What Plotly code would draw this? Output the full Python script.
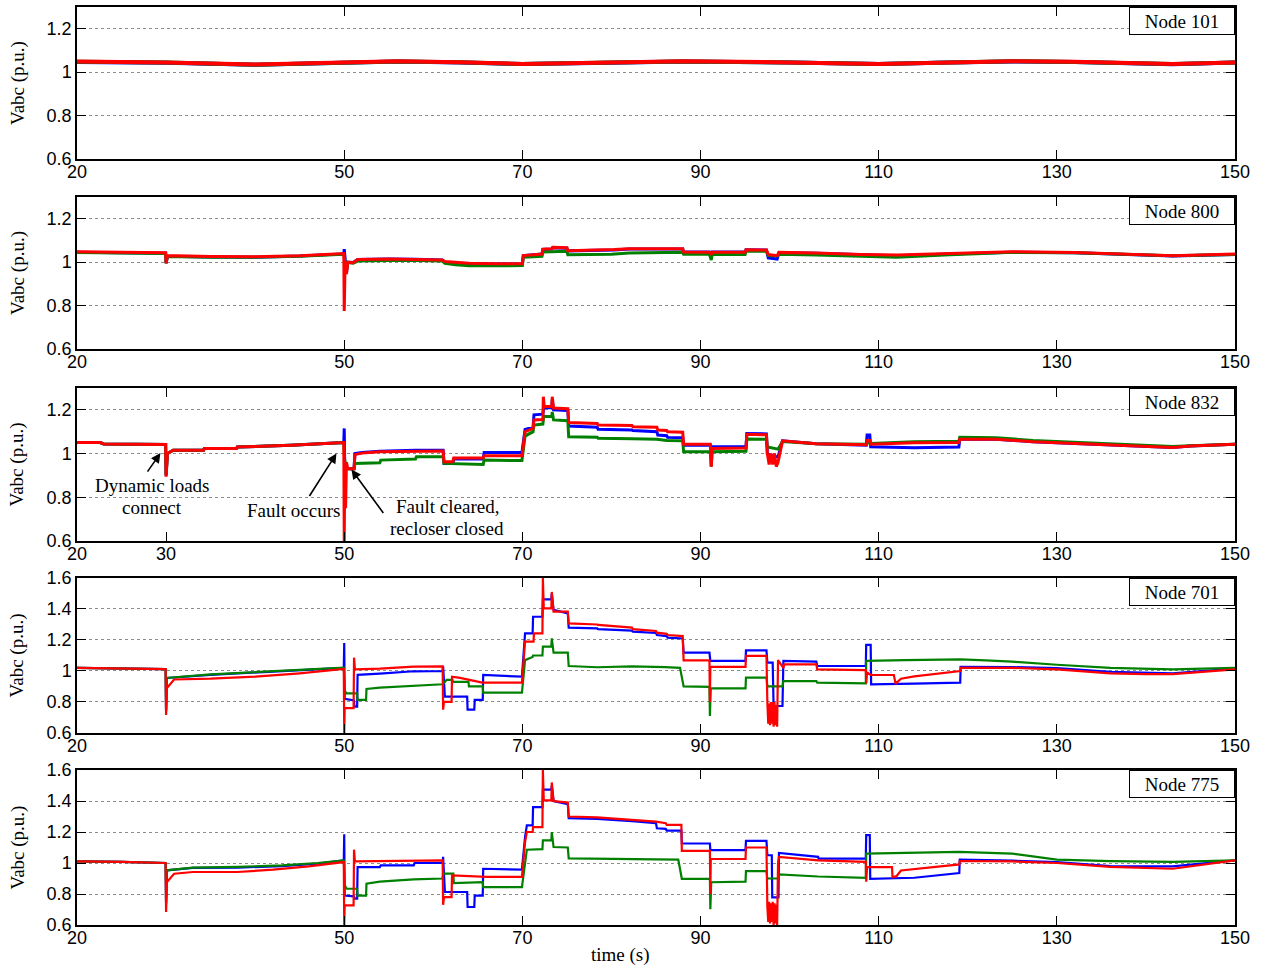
import plotly.graph_objects as go
from plotly.subplots import make_subplots

# ---------------- data (time s, voltage p.u.) ----------------
NODES = ["Node 101", "Node 800", "Node 832", "Node 701", "Node 775"]

# Node 101
N101_A = [(20,1.047),(30,1.043),(40,1.034),(50,1.043),(56,1.049),(63,1.045),(70,1.037),(80,1.043),(88,1.049),(100,1.044),(110,1.037),(118,1.044),(125,1.049),(132,1.047),(143,1.036),(150,1.044)]
N101_B = [(20,1.048),(30,1.044),(40,1.034),(50,1.044),(56,1.049),(63,1.046),(70,1.037),(80,1.044),(88,1.049),(100,1.045),(110,1.037),(118,1.045),(125,1.050),(132,1.047),(143,1.037),(150,1.044)]
N101_C = [(20,1.049),(30,1.045),(40,1.035),(50,1.044),(56,1.050),(63,1.046),(70,1.038),(80,1.044),(88,1.050),(100,1.045),(110,1.038),(118,1.045),(125,1.050),(132,1.048),(143,1.037),(150,1.045)]

# Node 800
N800_A = [(20,1.046),(25,1.044),(29.95,1.041),(30,0.995),(30.15,1.027),(35,1.024),(40,1.023),(45,1.028),(49.95,1.038),(50,1.06),(50.1,1.0),(50.25,0.95),(50.4,1.0),(51,0.998),(51.5,1.012),(55,1.015),(58,1.013),(61,1.01),(61.3,1.0),(62.5,0.997),(64,0.992),(67,0.992),(70,0.992),(70.1,1.03),(72.2,1.037),(72.3,1.058),(73.3,1.06),(73.4,1.066),(75,1.064),(75.1,1.052),(80,1.053),(80.3,1.056),(82,1.06),(85,1.061),(88,1.06),(88.1,1.047),(91,1.047),(91.2,1.036),(91.3,1.047),(95,1.047),(95.1,1.057),(97.4,1.056),(97.6,1.02),(98.6,1.014),(98.8,1.043),(103,1.041),(108,1.033),(112,1.03),(118,1.038),(125,1.046),(132,1.043),(138,1.033),(143,1.028),(150,1.035)]
N800_B = [(20,1.045),(25,1.043),(29.95,1.04),(30,0.995),(30.15,1.026),(35,1.023),(40,1.022),(45,1.027),(49.95,1.036),(50.1,1.0),(50.25,0.96),(50.4,0.998),(51,0.995),(51.5,1.005),(55,1.008),(58,1.007),(61,1.005),(61.3,0.995),(62.5,0.988),(64,0.983),(67,0.983),(70,0.984),(70.1,1.022),(72.2,1.027),(72.3,1.047),(73.3,1.048),(73.4,1.05),(75,1.05),(75.1,1.034),(80,1.036),(82,1.042),(85,1.045),(88,1.046),(88.1,1.036),(91,1.036),(91.2,1.01),(91.3,1.035),(95,1.035),(95.1,1.05),(97.4,1.05),(97.6,1.03),(98.6,1.028),(98.8,1.036),(103,1.033),(108,1.026),(112,1.022),(118,1.034),(125,1.045),(132,1.043),(138,1.034),(143,1.029),(150,1.035)]
N800_C = [(20,1.048),(25,1.046),(29.95,1.043),(30,0.995),(30.15,1.03),(35,1.026),(40,1.025),(45,1.03),(49.95,1.04),(50,0.775),(50.1,1.0),(50.25,0.945),(50.4,1.0),(51,0.997),(51.5,1.012),(55,1.015),(58,1.013),(61,1.01),(61.3,1.003),(62.5,1.0),(64,0.995),(67,0.993),(70,0.993),(70.1,1.03),(72.2,1.037),(72.3,1.06),(73.3,1.062),(73.4,1.068),(75,1.066),(75.1,1.053),(80,1.055),(80.3,1.058),(82,1.062),(85,1.063),(88,1.062),(88.1,1.047),(91,1.046),(91.2,1.035),(91.3,1.046),(95,1.046),(95.1,1.057),(97.4,1.056),(97.6,1.035),(98.6,1.03),(98.8,1.045),(103,1.042),(108,1.035),(112,1.033),(118,1.04),(125,1.048),(132,1.045),(138,1.035),(143,1.03),(150,1.037)]

# Node 832
N832_A = [(20,1.05),(22.6,1.05),(23,1.044),(29.95,1.041),(30,0.9),(30.15,1.0),(30.8,1.015),(34.2,1.015),(34.3,1.023),(37.9,1.023),(38,1.03),(44,1.038),(49.95,1.05),(50,1.115),(50.05,0.96),(50.3,0.93),(51.1,0.93),(51.2,1.0),(52,1.005),(54,1.01),(58,1.015),(61.1,1.015),(61.2,0.955),(62.2,0.955),(62.3,0.975),(65.6,0.975),(65.7,1.005),(69.95,1.005),(70.3,1.11),(71.2,1.12),(71.3,1.177),(72.3,1.18),(72.4,1.21),(73.3,1.21),(73.35,1.246),(73.5,1.2),(75.1,1.197),(75.2,1.126),(78.4,1.12),(78.5,1.111),(82.3,1.108),(82.4,1.105),(85.1,1.1),(85.2,1.085),(86.2,1.082),(86.3,1.074),(88,1.072),(88.1,1.038),(91.1,1.038),(91.2,1.031),(95.1,1.031),(95.2,1.092),(97.4,1.09),(97.5,1.0),(98.5,0.985),(98.7,0.985),(99.2,1.058),(103,1.045),(108.6,1.038),(108.7,1.085),(109,1.085),(109.1,1.031),(114,1.026),(119,1.03),(119.1,1.065),(123.2,1.066),(127.3,1.054),(134,1.043),(143,1.028),(145,1.034),(150,1.043)]
N832_B = [(20,1.05),(22.6,1.05),(23,1.044),(29.95,1.041),(30,0.9),(30.15,1.0),(30.8,1.015),(34.2,1.015),(34.3,1.023),(37.9,1.023),(38,1.03),(44,1.038),(49.95,1.05),(50.05,0.97),(50.3,0.93),(51.1,0.93),(51.2,0.955),(54,0.958),(54.1,0.97),(58,0.975),(58.1,0.985),(61.1,0.985),(61.2,0.955),(65.6,0.95),(65.7,0.97),(69.95,0.968),(70.3,1.08),(71.2,1.1),(71.3,1.13),(72.3,1.135),(72.4,1.17),(73.3,1.17),(73.35,1.19),(73.5,1.154),(75.1,1.15),(75.2,1.077),(78.4,1.075),(78.5,1.07),(82.3,1.068),(85.1,1.065),(86.2,1.06),(88,1.058),(88.1,1.008),(91.1,1.008),(91.2,0.94),(91.3,1.008),(95.1,1.01),(95.2,1.066),(97.4,1.065),(97.5,1.03),(98.7,1.02),(99.2,1.055),(103,1.045),(108.6,1.042),(108.7,1.05),(109.1,1.046),(114,1.054),(119,1.056),(119.1,1.074),(123.2,1.072),(127.3,1.06),(134,1.048),(143,1.032),(145,1.036),(150,1.043)]
N832_C = [(20,1.05),(22.6,1.05),(23,1.044),(29.95,1.041),(30,0.894),(30.15,1.0),(30.8,1.015),(34.2,1.015),(34.3,1.023),(37.9,1.023),(38,1.03),(44,1.038),(49.95,1.05),(50,0.6),(50.05,0.9),(50.15,0.75),(50.25,0.96),(50.4,0.93),(51.1,0.93),(51.2,0.995),(52,1.002),(54,1.008),(58,1.012),(61.1,1.012),(61.2,0.962),(62.2,0.962),(62.3,0.98),(65.6,0.98),(65.7,0.99),(69.95,0.99),(70.3,1.1),(71.2,1.115),(71.3,1.154),(72.3,1.156),(72.35,1.26),(72.45,1.215),(73.3,1.215),(73.35,1.26),(73.5,1.208),(75.1,1.205),(75.2,1.142),(78.4,1.138),(78.5,1.131),(82.3,1.128),(82.4,1.123),(85.1,1.12),(85.2,1.108),(86.2,1.106),(86.3,1.1),(88,1.098),(88.1,1.043),(91.1,1.043),(91.2,0.94),(91.3,1.023),(95.1,1.025),(95.2,1.088),(97.4,1.086),(97.5,1.0),(97.7,0.95),(97.9,1.0),(98.1,0.95),(98.3,1.0),(98.5,0.94),(98.7,0.96),(99.2,1.058),(103,1.045),(108.6,1.04),(108.7,1.06),(109,1.06),(109.1,1.043),(114,1.049),(119,1.05),(119.1,1.065),(123.2,1.066),(127.3,1.054),(134,1.043),(143,1.028),(145,1.034),(150,1.043)]

# Node 701
N701_A = [(20,1.02),(25,1.015),(29.95,1.012),(30,0.74),(30.1,0.955),(35,0.975),(40,0.99),(45,1.005),(49.95,1.02),(50,1.18),(50.05,0.82),(51.1,0.81),(51.15,0.77),(51.45,0.77),(51.5,0.975),(54,0.983),(57.8,0.998),(61.05,1.0),(61.1,1.03),(61.3,0.834),(63.8,0.834),(63.85,0.75),(64.6,0.75),(64.65,0.813),(65.55,0.813),(65.6,0.974),(69.95,0.963),(70.3,1.243),(71.15,1.243),(71.2,1.35),(72.25,1.35),(72.3,1.462),(73.25,1.462),(73.3,1.5),(73.5,1.394),(75.1,1.372),(75.2,1.28),(78.4,1.275),(78.5,1.27),(82.3,1.26),(82.4,1.254),(85,1.245),(85.1,1.232),(86.2,1.225),(86.3,1.215),(88,1.21),(88.1,1.118),(91,1.118),(91.1,1.065),(95.05,1.065),(95.1,1.133),(97.4,1.133),(97.5,1.054),(98.1,1.054),(98.2,0.774),(99.2,0.774),(99.3,1.065),(103,1.06),(103.1,1.032),(108.55,1.032),(108.6,1.168),(109.1,1.168),(109.15,0.914),(114,0.918),(119.15,0.925),(119.2,1.026),(125,1.025),(130,1.018),(136,0.995),(143,0.985),(150,1.015)]
N701_B = [(20,1.02),(25,1.015),(29.95,1.012),(30,0.75),(30.1,0.955),(35,0.978),(40,0.993),(45,1.008),(49.95,1.022),(50.05,0.877),(50.2,0.856),(51.45,0.856),(51.5,0.813),(52.45,0.813),(52.5,0.884),(54,0.892),(57,0.9),(60.8,0.914),(61.05,0.914),(61.5,0.942),(62.15,0.942),(62.2,0.93),(63.95,0.93),(64,0.9),(65.55,0.9),(65.6,0.86),(69.95,0.86),(70.3,1.07),(71.15,1.09),(71.2,1.1),(72.25,1.1),(72.3,1.157),(73.25,1.157),(73.3,1.21),(73.5,1.118),(75.1,1.118),(75.2,1.032),(78.4,1.024),(82.3,1.03),(86,1.025),(87.7,1.02),(88.1,0.9),(91,0.897),(91.05,0.71),(91.15,0.888),(95.05,0.888),(95.1,0.957),(97.4,0.957),(97.5,0.9),(99.2,0.9),(99.3,0.935),(103,0.935),(103.1,0.925),(108.55,0.92),(108.6,1.065),(113,1.07),(119.2,1.075),(122,1.068),(125,1.06),(130,1.04),(136,1.02),(143,1.01),(150,1.02)]
N701_C = [(20,1.02),(25,1.015),(29.95,1.012),(30,0.716),(30.1,0.89),(30.9,0.945),(35,0.95),(40,0.963),(45,0.985),(49.95,1.013),(50,0.6),(50.05,0.76),(51.05,0.76),(51.1,1.086),(51.2,1.011),(54,1.015),(57.8,1.028),(61.05,1.03),(61.1,0.75),(61.2,0.8),(62.05,0.8),(62.1,0.963),(63,0.955),(65.5,0.925),(69.95,0.925),(70.3,1.19),(71.25,1.19),(71.3,1.243),(72.25,1.243),(72.3,1.6),(72.4,1.404),(73.25,1.404),(73.3,1.51),(73.5,1.383),(75.1,1.383),(75.2,1.307),(78.4,1.3),(78.5,1.297),(82.3,1.28),(82.4,1.27),(85,1.258),(85.1,1.247),(86.2,1.24),(86.3,1.232),(88,1.225),(88.1,1.069),(91,1.069),(91.05,0.8),(91.1,1.026),(95.05,1.026),(95.1,1.097),(97.4,1.097),(97.5,0.8),(97.6,0.66),(97.7,0.79),(97.8,0.65),(97.9,0.8),(98.0,0.66),(98.1,0.8),(98.2,0.64),(98.3,0.8),(98.4,0.65),(98.5,0.78),(98.6,0.64),(98.7,1.07),(99.3,1.02),(99.4,1.043),(103,1.043),(103.1,1.01),(108.55,1.005),(108.6,0.92),(108.7,0.99),(109.1,0.974),(111.7,0.974),(111.9,0.918),(112.5,0.95),(114,0.965),(119.15,1.0),(119.2,1.02),(125,1.02),(130,1.01),(136,0.985),(140,0.98),(143,0.98),(150,1.01)]

# Node 775
N775_A = [(20,1.01),(25,1.008),(29.95,1.0),(30,0.737),(30.1,0.953),(33,0.968),(38,0.97),(43,0.98),(47,0.996),(49.95,1.017),(50,1.185),(50.05,0.79),(51.1,0.785),(51.15,0.77),(51.45,0.77),(51.5,0.974),(54,0.974),(54.1,0.985),(57.8,0.985),(57.9,1.0),(61.05,1.0),(61.1,1.04),(61.3,0.813),(63.8,0.813),(63.85,0.716),(64.6,0.716),(64.65,0.79),(65.55,0.79),(65.6,0.963),(69.95,0.957),(70.3,1.168),(70.5,1.243),(71.15,1.243),(71.2,1.361),(72.25,1.361),(72.3,1.473),(73.25,1.473),(73.3,1.5),(73.5,1.4),(75.1,1.38),(75.2,1.29),(78.4,1.285),(82.3,1.27),(85,1.257),(85.1,1.224),(86.1,1.22),(86.2,1.209),(87.85,1.209),(87.9,1.126),(91.05,1.126),(91.1,1.083),(95.05,1.083),(95.1,1.143),(97.4,1.143),(97.5,1.05),(98.0,1.05),(98.05,0.778),(98.75,0.778),(98.8,1.065),(103.2,1.04),(103.25,1.028),(108.55,1.028),(108.6,1.18),(109.0,1.18),(109.05,0.898),(114,0.905),(119.05,0.935),(119.1,1.022),(125,1.015),(130,1.006),(136,0.98),(143,0.978),(150,1.017)]
N775_B = [(20,1.01),(25,1.008),(29.95,1.0),(30,0.75),(30.1,0.953),(33,0.97),(38,0.975),(43,0.985),(47,1.0),(49.95,1.017),(50.05,0.856),(50.3,0.834),(51.45,0.834),(51.5,0.79),(52.45,0.79),(52.5,0.867),(54,0.88),(57.8,0.895),(61.05,0.9),(61.1,0.931),(62.25,0.931),(62.3,0.87),(65.55,0.877),(65.6,0.845),(69.95,0.845),(70.3,1.017),(70.5,1.086),(72.25,1.09),(72.3,1.146),(73.25,1.146),(73.3,1.2),(73.5,1.103),(75.1,1.1),(75.2,1.03),(80,1.025),(85,1.022),(87.5,1.022),(87.9,0.898),(91.05,0.898),(91.1,0.702),(91.2,0.876),(95.05,0.88),(95.1,0.948),(97.4,0.948),(97.5,0.9),(98.75,0.9),(98.8,0.926),(103.2,0.913),(108.55,0.904),(108.6,1.061),(114,1.065),(119,1.072),(125,1.06),(130,1.022),(136,1.012),(143,1.007),(150,1.017)]
N775_C = [(20,1.01),(25,1.008),(29.95,1.0),(30,0.684),(30.1,0.877),(30.9,0.931),(33,0.942),(38,0.942),(42,0.957),(46,0.978),(49.95,1.006),(50,0.6),(50.05,0.727),(51.05,0.727),(51.1,1.086),(51.2,1.01),(57.8,1.017),(61.05,1.017),(61.1,0.73),(61.2,0.78),(62.05,0.78),(62.1,0.92),(66,0.91),(69.95,0.91),(70.3,1.135),(70.5,1.2),(71.15,1.2),(71.2,1.232),(72.25,1.232),(72.3,1.6),(72.4,1.404),(73.25,1.404),(73.3,1.52),(73.5,1.4),(75.1,1.39),(75.2,1.3),(78.4,1.295),(82.3,1.28),(85,1.267),(86.1,1.257),(86.2,1.246),(87.85,1.246),(87.9,1.078),(91.05,1.078),(91.1,0.8),(91.15,1.026),(95.05,1.026),(95.1,1.1),(97.4,1.1),(97.5,0.72),(97.6,0.62),(97.7,0.75),(97.8,0.61),(97.9,0.74),(98.0,0.62),(98.1,0.75),(98.2,0.6),(98.3,0.74),(98.4,0.61),(98.5,0.73),(98.6,0.6),(98.7,1.0),(98.8,1.04),(103.2,1.017),(108.55,1.007),(108.6,0.88),(108.7,0.974),(111.5,0.974),(111.55,0.909),(112,0.915),(112.5,0.952),(119.05,0.991),(119.1,1.013),(125,1.01),(130,1.0),(136,0.975),(143,0.963),(150,1.017)]

SERIES = [
    (N101_A, N101_B, N101_C),
    (N800_A, N800_B, N800_C),
    (N832_A, N832_B, N832_C),
    (N701_A, N701_B, N701_C),
    (N775_A, N775_B, N775_C),
]
Y_RANGES = [[0.6, 1.3], [0.6, 1.3], [0.6, 1.3], [0.6, 1.6], [0.6, 1.6]]
Y_TICKS_LOW = [0.6, 0.8, 1.0, 1.2]
Y_TICKS_HIGH = [0.6, 0.8, 1.0, 1.2, 1.4, 1.6]
X_TICKS = [20, 50, 70, 90, 110, 130, 150]
X_TICKS_832 = [20, 30, 50, 70, 90, 110, 130, 150]

PHASE_COLORS = ["#0000FF", "#008000", "#FF0000"]
LINE_WIDTHS = [4, 3, 3, 2.2, 2.2]

SERIF = "Liberation Serif, Times New Roman, serif"
SANS = "Liberation Sans, Arial, sans-serif"

DOMAINS = [[0.8344, 1.0], [0.6275, 0.7930], [0.4183, 0.5850], [0.2092, 0.3780], [0.0, 0.1688]]

fig = make_subplots(rows=5, cols=1)

for i, phases in enumerate(SERIES):
    for j, ser in enumerate(phases):
        t = [p[0] for p in ser]
        v = [p[1] for p in ser]
        fig.add_trace(go.Scatter(x=t, y=v, mode="lines",
                                 line=dict(color=PHASE_COLORS[j], width=LINE_WIDTHS[i]),
                                 showlegend=False, hoverinfo="skip"),
                      row=i + 1, col=1)

for i in range(5):
    xa = "xaxis" if i == 0 else f"xaxis{i+1}"
    ya = "yaxis" if i == 0 else f"yaxis{i+1}"
    xt = X_TICKS_832 if i == 2 else X_TICKS
    yt = Y_TICKS_LOW if i < 3 else Y_TICKS_HIGH
    fig.layout[xa].update(range=[20, 150], tickvals=xt, ticktext=[str(x) for x in xt],
                          showgrid=False, zeroline=False, showline=True, mirror="ticks",
                          linecolor="black", linewidth=1.5, ticks="inside", ticklen=9,
                          tickcolor="black", tickwidth=1, automargin=False,
                          ticklabelstandoff=-4,
                          tickfont=dict(family=SANS, size=18, color="black"))
    fig.layout[ya].update(range=Y_RANGES[i], domain=DOMAINS[i], tickvals=yt,
                          ticktext=[f"{v:g}" for v in yt],
                          showgrid=True, gridcolor="#8c8c8c", griddash="dot", gridwidth=1,
                          zeroline=False, showline=True, mirror="ticks",
                          linecolor="black", linewidth=1.5, ticks="inside", ticklen=9,
                          tickcolor="black", tickwidth=1, automargin=False,
                          tickfont=dict(family=SANS, size=18, color="black"))

annotations = []
for i in range(5):
    xr = "x" if i == 0 else f"x{i+1}"
    yr = "y" if i == 0 else f"y{i+1}"
    annotations.append(dict(text=NODES[i], xref=f"{xr} domain", yref=f"{yr} domain",
                            x=1, y=1, xanchor="right", yanchor="top", showarrow=False,
                            font=dict(family=SERIF, size=19, color="black"),
                            bgcolor="white", bordercolor="black", borderwidth=1,
                            borderpad=2, width=100, height=22))
    d = DOMAINS[i]
    annotations.append(dict(text="Vabc (p.u.)", xref="paper", yref="paper",
                            x=-0.051, y=(d[0] + d[1]) / 2, textangle=-90,
                            xanchor="center", yanchor="middle", showarrow=False,
                            font=dict(family=SERIF, size=19, color="black")))

annotations.append(dict(text="time (s)", xref="paper", yref="paper", x=(620 - 77) / 1158,
                        y=-30 / 918, xanchor="center", yanchor="middle", showarrow=False,
                        font=dict(family=SERIF, size=19, color="black")))

# arrows in Node 832 panel
ARROWS = [(29.37, 1.002, -14, 20), (49.13, 1.0, -28, 44), (50.81, 0.927, 33, 45)]
for (xa_, ya_, ax, ay) in ARROWS:
    annotations.append(dict(x=xa_, y=ya_, xref="x3", yref="y3", text="", showarrow=True,
                            ax=ax, ay=ay, arrowhead=2, arrowsize=1.2, arrowwidth=1.6,
                            arrowcolor="black"))
TEXTS = [("Dynamic loads", 28.42, 0.8545), ("connect", 28.42, 0.7545),
         ("Fault occurs", 44.25, 0.741),
         ("Fault cleared,", 61.54, 0.759), ("recloser closed", 61.54, 0.659)]
for (txt, tx, ty) in TEXTS:
    annotations.append(dict(x=tx, y=ty, xref="x3", yref="y3", text=txt, showarrow=False,
                            xanchor="center", yanchor="middle",
                            font=dict(family=SERIF, size=19, color="black")))

fig.update_layout(width=1263, height=969, margin=dict(l=77, r=28, t=7, b=44),
                  paper_bgcolor="white", plot_bgcolor="white",
                  annotations=annotations, showlegend=False)

fig.write_html("out.html")
